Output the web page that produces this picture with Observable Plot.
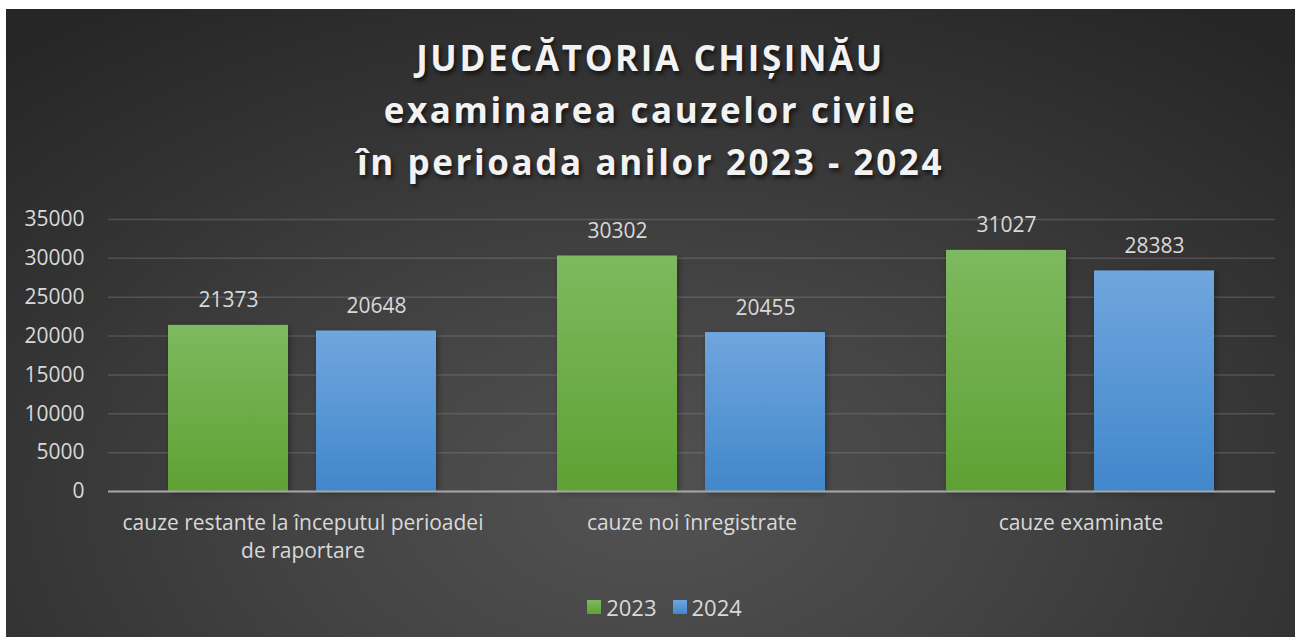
<!DOCTYPE html>
<html>
<head>
<meta charset="utf-8">
<script src="https://cdn.jsdelivr.net/npm/d3@7"></script>
<script src="https://cdn.jsdelivr.net/npm/@observablehq/plot@0.6"></script>
<style>
  html, body { margin: 0; padding: 0; background: #ffffff; width: 1295px; height: 637px; overflow: hidden; }
  #card {
    position: absolute; left: 6px; top: 9px; width: 1289px; height: 628px;
    background: radial-gradient(ellipse 75% 95% at 50% 78%, #525252 0%, #444444 35%, #333333 70%, #262626 100%);
    font-family: "Open Sans", sans-serif;
  }
  #title {
    position: absolute; left: 0; top: 23px; width: 1289px; text-align: center;
    color: #f2f2f2; font-weight: 700; font-size: 35px; line-height: 52px; letter-spacing: 2.6px;
    text-shadow: 2px 3px 4px rgba(0,0,0,0.65);
  }
  #chart { position: absolute; left: -6px; top: 181px; }
  #legend {
    position: absolute; left: 14px; top: 581px; width: 1289px; text-align: center;
    color: #d9d9d9; font-size: 22px;
  }
  #legend span.item { display: inline-flex; align-items: center; margin: 0 8px; }
  #legend span.sw { display: inline-block; width: 14px; height: 14px; margin-right: 5px; }
</style>
</head>
<body>
<svg width="0" height="0" style="position:absolute">
  <defs>
    <linearGradient id="gGreen" x1="0" y1="0" x2="0" y2="1">
      <stop offset="0" stop-color="#7db95f"/>
      <stop offset="1" stop-color="#5fa133"/>
    </linearGradient>
    <linearGradient id="gBlue" x1="0" y1="0" x2="0" y2="1">
      <stop offset="0" stop-color="#70a6de"/>
      <stop offset="1" stop-color="#4187cb"/>
    </linearGradient>
    <filter id="shadow" x="-20%" y="-20%" width="140%" height="140%">
      <feDropShadow dx="2" dy="2" stdDeviation="3" flood-color="#000" flood-opacity="0.35"/>
    </filter>
  </defs>
</svg>
<div id="card">
  <div id="title">JUDECĂTORIA CHIȘINĂU<br>examinarea cauzelor civile<br>în perioada anilor 2023 - 2024</div>
  <div id="chart"></div>
  <div id="legend"></div>
</div>
<script>
const categories = [
  "cauze restante la începutul perioadei de raportare",
  "cauze noi înregistrate",
  "cauze examinate"
];
const tickLabels = [
  "cauze restante la începutul perioadei\nde raportare",
  "cauze noi înregistrate",
  "cauze examinate"
];
const years = ["2023", "2024"];
const values2023 = [21373, 30302, 31027];
const values2024 = [20648, 20455, 28383];
const yTicks = [0, 5000, 10000, 15000, 20000, 25000, 30000, 35000];
const colors = {"2023": "url(#gGreen)", "2024": "url(#gBlue)"};

const data = [];
categories.forEach((c, i) => {
  data.push({category: c, year: "2023", value: values2023[i]});
  data.push({category: c, year: "2024", value: values2024[i]});
});

const plot = Plot.plot({
  width: 1295,
  height: 390,
  marginTop: 29,
  marginBottom: 89,
  marginLeft: 107,
  marginRight: 20,
  style: {background: "transparent", color: "#d9d9d9", fontFamily: "Open Sans, sans-serif", fontSize: "21px"},
  fx: {domain: categories, padding: 0, label: null},
  x: {domain: years, paddingInner: 0.188, paddingOuter: 0.4, axis: null},
  y: {domain: [0, 35000], label: null},
  marks: [
    Plot.axisFx({anchor: "bottom", tickSize: 0, tickPadding: 19, fontSize: 21, lineHeight: 1.33, fill: "#d9d9d9", label: null, tickFormat: d => tickLabels[categories.indexOf(d)]}),
    Plot.gridY(yTicks, {stroke: "#8a8a8a", strokeOpacity: 0.35, strokeWidth: 1.5}),
    Plot.axisY(yTicks, {tickSize: 0, tickPadding: 24, fontSize: 21, fill: "#d9d9d9", label: null, tickFormat: d => String(d)}),
    Plot.barY(data, {fx: "category", x: "year", y: "value", fill: d => colors[d.year]}),
    Plot.ruleY([0], {stroke: "#a6a6a6", strokeWidth: 2}),
    Plot.text(data, {fx: "category", x: "year", y: "value", text: d => String(d.value), lineAnchor: "bottom", dy: -18, fill: "#d9d9d9", fontSize: 21})
  ]
});
plot.querySelectorAll("g[aria-label='bar'] rect").forEach(r => r.setAttribute("filter", "url(#shadow)"));
document.getElementById("chart").appendChild(plot);

const legend = document.getElementById("legend");
years.forEach(y => {
  const it = document.createElement("span");
  it.className = "item";
  const sw = document.createElement("span");
  sw.className = "sw";
  sw.style.background = y === "2023" ? "linear-gradient(#7db95f,#5fa133)" : "linear-gradient(#70a6de,#4187cb)";
  it.appendChild(sw);
  it.appendChild(document.createTextNode(y));
  legend.appendChild(it);
});
</script>
</body>
</html>
